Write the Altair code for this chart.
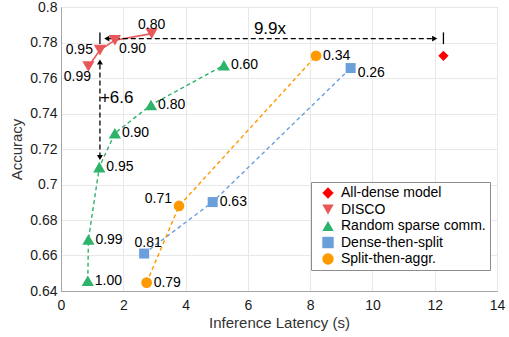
import altair as alt
import pandas as pd

FONT = "Liberation Sans"

series_names = ["All-dense model", "DISCO", "Random sparse comm.", "Dense-then-split", "Split-then-aggr."]
series_colors = ["#FF0000", "#E8585A", "#2DB36B", "#6A9FDB", "#FF9900"]
series_shapes = ["diamond", "triangle-down", "triangle-up", "square", "circle"]
series_sizes = [105, 150, 150, 100, 115]

dense_x = [12.28]
dense_y = [0.7725]
dense_lab = [""]
dense_pos = ["r"]

disco_x = [0.88, 1.25, 1.73, 2.91]
disco_y = [0.7665, 0.7757, 0.7813, 0.7850]
disco_lab = ["0.99", "0.95", "0.90", "0.80"]
disco_pos = ["bl", "l", "br", "a"]

rand_x = [0.86, 0.88, 1.23, 1.73, 2.89, 5.23]
rand_y = [0.6458, 0.6690, 0.7098, 0.7289, 0.7448, 0.7672]
rand_lab = ["1.00", "0.99", "0.95", "0.90", "0.80", "0.60"]
rand_pos = ["r", "r", "r", "r", "r", "r"]

dts_x = [2.67, 4.87, 9.30]
dts_y = [0.6611, 0.6901, 0.7656]
dts_lab = ["0.81", "0.63", "0.26"]
dts_pos = ["ar", "r", "rb"]

sta_x = [2.75, 3.79, 8.19]
sta_y = [0.6447, 0.6879, 0.7725]
sta_lab = ["0.79", "0.71", "0.34"]
sta_pos = ["r", "la", "r"]

x_ticks = [0, 2, 4, 6, 8, 10, 12, 14]
y_ticks = [0.64, 0.66, 0.68, 0.70, 0.72, 0.74, 0.76, 0.78, 0.80]

# annotation values (data space)
h_arrow_y = 0.7822
h_arrow_x = [1.47, 12.0]
h_bar_x = [1.25, 12.28]
h_bar_y = [0.7791, 0.7857]
v_arrow_x = 1.25
v_arrow_y = [0.7152, 0.7690]
ann_text = ["9.9x", "+6.6"]
ann_x = [6.71, 1.25]
ann_y = [0.7876, 0.7485]

rows = []
for name, xs_, ys_, labs, poss in [
    (series_names[0], dense_x, dense_y, dense_lab, dense_pos),
    (series_names[1], disco_x, disco_y, disco_lab, disco_pos),
    (series_names[2], rand_x, rand_y, rand_lab, rand_pos),
    (series_names[3], dts_x, dts_y, dts_lab, dts_pos),
    (series_names[4], sta_x, sta_y, sta_lab, sta_pos),
]:
    for i, (x, y, l, p) in enumerate(zip(xs_, ys_, labs, poss)):
        rows.append({"series": name, "x": x, "y": y, "label": l, "pos": p, "order": i})
df = pd.DataFrame(rows)

xs = alt.Scale(domain=[0, 14], nice=False, zero=False)
ys = alt.Scale(domain=[0.64, 0.8], nice=False, zero=False)

x_axis = alt.Axis(values=x_ticks, title="Inference Latency (s)", labelPadding=7, titlePadding=3, labelOverlap=False)
y_axis = alt.Axis(values=y_ticks, format=".2~f", title="Accuracy", labelPadding=4, titlePadding=5,
                  labelOverlap=False)
X = alt.X("x:Q", scale=xs, axis=x_axis)
Y = alt.Y("y:Q", scale=ys, axis=y_axis)

base = alt.Chart(df)

leg = alt.Legend(orient="none", legendX=250, legendY=175)
color_scale = alt.Scale(domain=series_names, range=series_colors)
color_enc = alt.Color("series:N", scale=color_scale, title=None, legend=leg)
shape_enc = alt.Shape("series:N", scale=alt.Scale(domain=series_names, range=series_shapes), title=None, legend=leg)

disco_line = base.transform_filter(alt.datum.series == series_names[1]).mark_line(strokeWidth=1.6).encode(
    x=X, y=Y, color=color_enc, order="order:Q")
dashed_lines = base.transform_filter(
    (alt.datum.series != series_names[0]) & (alt.datum.series != series_names[1])
).mark_line(strokeWidth=1.4, strokeDash=[4, 3]).encode(
    x=X, y=Y, color=color_enc, detail="series:N", order="order:Q")

point_layers = []
for name, sz in zip(series_names, series_sizes):
    point_layers.append(
        base.transform_filter(alt.datum.series == name).mark_point(filled=True, opacity=1, size=sz).encode(
            x=X, y=Y, color=color_enc, shape=shape_enc)
    )

placements = {
    "r": ("left", 7, 0),
    "l": ("right", -7, 0),
    "bl": ("center", -11, 11),
    "br": ("left", 4, 9),
    "a": ("center", 0, -9),
    "ar": ("center", 4, -11),
    "rb": ("left", 7, 5),
    "la": ("right", -7, -7),
}
label_layers = []
for key, (al, dx, dy) in placements.items():
    label_layers.append(
        base.transform_filter((alt.datum.pos == key) & (alt.datum.label != "")).mark_text(
            align=al, baseline="middle", dx=dx, dy=dy, font=FONT, fontSize=14, color="#000000"
        ).encode(x=X, y=Y, text="label:N")
    )

AX = alt.X("x:Q", scale=xs, axis=x_axis)
AY = alt.Y("y:Q", scale=ys, axis=y_axis)

# annotations
hdf = pd.DataFrame({"x": [h_arrow_x[0]], "x2": [h_arrow_x[1]], "y": [h_arrow_y]})
h_line = alt.Chart(hdf).mark_rule(strokeDash=[5, 3], strokeWidth=1.3, color="black").encode(
    x=AX, x2="x2:Q", y=AY)
bars_df = pd.DataFrame({"x": h_bar_x, "y": [h_bar_y[0]] * 2, "y2": [h_bar_y[1]] * 2})
h_bars = alt.Chart(bars_df).mark_rule(strokeWidth=1.3, color="black").encode(
    x=AX, y=AY, y2="y2:Q")
vdf = pd.DataFrame({"x": [v_arrow_x], "y": [v_arrow_y[0]], "y2": [v_arrow_y[1]]})
v_line = alt.Chart(vdf).mark_rule(strokeDash=[5, 3], strokeWidth=1.3, color="black").encode(
    x=AX, y=AY, y2="y2:Q")

head_specs = [
    (h_arrow_x[0], h_arrow_y, "triangle-left"),
    (h_arrow_x[1], h_arrow_y, "triangle-right"),
    (v_arrow_x, v_arrow_y[1], "triangle-up"),
    (v_arrow_x, v_arrow_y[0], "triangle-down"),
]
heads = []
for hx, hy, sh in head_specs:
    heads.append(alt.Chart(pd.DataFrame({"x": [hx], "y": [hy]})).mark_point(
        filled=True, size=35, color="black", opacity=1, shape=sh).encode(x=AX, y=AY))

adf = pd.DataFrame({"t": ann_text, "x": ann_x, "y": ann_y})
ann1 = alt.Chart(adf.iloc[[0]]).mark_text(font=FONT, fontSize=17, align="center", baseline="middle", color="black").encode(
    x=AX, y=AY, text="t:N")
ann2 = alt.Chart(adf.iloc[[1]]).mark_text(font=FONT, fontSize=17, align="left", baseline="middle", color="black").encode(
    x=AX, y=AY, text="t:N")

chart = alt.layer(
    dashed_lines, disco_line, h_line, h_bars, v_line, *heads, *point_layers, *label_layers, ann1, ann2
).properties(
    width=436, height=284,
    padding={"left": 61, "top": 7, "right": 12, "bottom": 46},
    autosize=alt.AutoSizeParams(type="none"),
).configure_view(
    stroke="#A6A6A6", strokeWidth=1
).configure_axis(
    labelFont=FONT, titleFont=FONT, labelFontSize=14, titleFontSize=15,
    labelColor="#1a1a1a", titleColor="#333333", titleFontWeight="normal",
    grid=True, gridColor="#E8E8E8", gridWidth=1,
    domainColor="#A6A6A6", ticks=False, labelFlush=False, labelOverlap=False,
).configure_legend(
    labelFont=FONT, labelFontSize=14, labelColor="#000000",
    fillColor="white", strokeColor="#8C8C8C", padding=4,
    rowPadding=2.5, symbolSize=130, symbolStrokeWidth=0, labelOffset=6,
    symbolOffset=6,
)

chart.save("out.html", embed_options={"renderer": "svg", "actions": False})
